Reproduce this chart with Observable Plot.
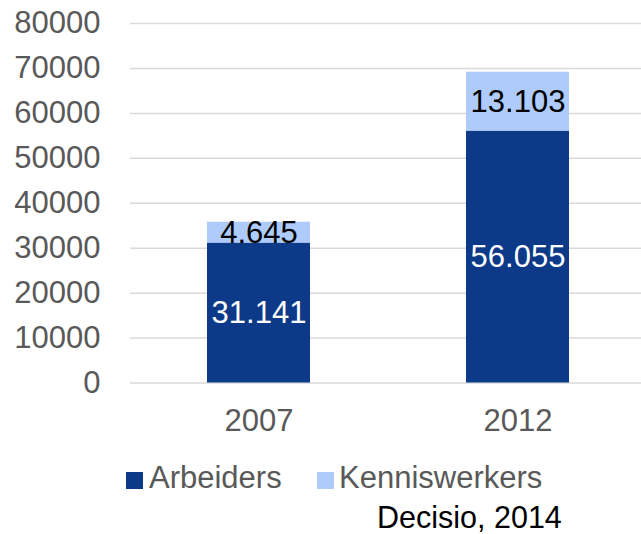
<!DOCTYPE html>
<html>
<head>
<meta charset="utf-8">
<script src="https://cdn.jsdelivr.net/npm/d3@7"></script>
<script src="https://cdn.jsdelivr.net/npm/@observablehq/plot@0.6"></script>
<style>
  body { margin: 0; background: #fff; font-family: "Liberation Sans", Arial, sans-serif; }
  #wrap { position: relative; width: 641px; height: 534px; }
  #legend { position: absolute; top: 459px; left: 0; height: 37px; font-size: 31px; line-height: 37px; color: #595959; }
  .item { position: absolute; top: 0; white-space: nowrap; }
  .sw { position: absolute; top: 13px; width: 17px; height: 17px; }
  #caption { position: absolute; top: 499px; left: 377px; font-size: 30.5px; line-height: 37px; color: #000; white-space: nowrap; }
</style>
</head>
<body>
<div id="wrap">
  <div id="chart"></div>
  <div id="legend"></div>
  <div id="caption">Decisio, 2014</div>
</div>
<script>
const years = ["2007", "2012"];
const series = ["Arbeiders", "Kenniswerkers"];
const arbeiders = [31141, 56055];
const kenniswerkers = [4645, 13103];
const yTicks = [0, 10000, 20000, 30000, 40000, 50000, 60000, 70000, 80000];
const colors = ["#0c3a88", "#aecbfb"];
const labelColors = ["#ffffff", "#000000"];

const rows = [];
years.forEach((y, i) => {
  rows.push({year: y, series: series[0], value: arbeiders[i]});
  rows.push({year: y, series: series[1], value: kenniswerkers[i]});
});
const fmt = d3.formatLocale({decimal: ",", thousands: ".", grouping: [3]}).format(",d");

const chart = Plot.plot({
  width: 641,
  height: 455,
  marginLeft: 130,
  marginRight: 0,
  marginTop: 23,
  marginBottom: 72.5,
  style: {fontFamily: "'Liberation Sans', Arial, sans-serif", fontSize: "31px", background: "#fff"},
  x: {domain: years, range: [77.5, 698.6], paddingInner: 0.6023, paddingOuter: 0.5, label: null},
  y: {domain: [0, 80000], label: null},
  color: {domain: series, range: colors},
  marks: [
    Plot.ruleY(yTicks, {stroke: "#d9d9d9", strokeWidth: 1.5}),
    Plot.barY(rows, Plot.stackY({x: "year", y: "value", fill: "series", order: series})),
    Plot.text(rows, Plot.stackY({x: "year", y: "value", text: d => fmt(d.value), order: series,
      fill: d => labelColors[series.indexOf(d.series)], fontSize: 31})),
    Plot.axisY({ticks: yTicks, tickSize: 0, tickPadding: 30, tickFormat: d => String(d), fill: "#595959", fontSize: 31, label: null}),
    Plot.axisX({tickSize: 0, tickPadding: 26, fill: "#595959", fontSize: 31, label: null})
  ]
});
document.getElementById("chart").appendChild(chart);

const legend = document.getElementById("legend");
const pos = [[126, 149], [317, 339]];
series.forEach((s, i) => {
  const sw = document.createElement("div");
  sw.className = "sw";
  sw.style.left = pos[i][0] + "px";
  sw.style.background = colors[i];
  legend.appendChild(sw);
  const t = document.createElement("div");
  t.className = "item";
  t.style.left = pos[i][1] + "px";
  t.textContent = s;
  legend.appendChild(t);
});
</script>
</body>
</html>
